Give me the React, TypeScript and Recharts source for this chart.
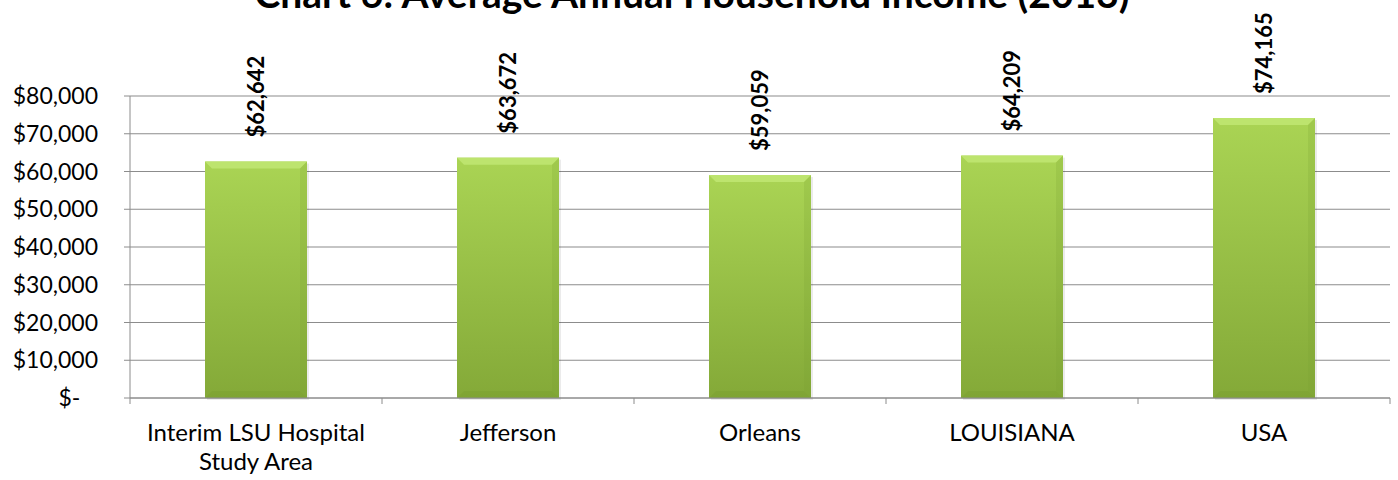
import { Bar, BarChart, CartesianGrid, LabelList, XAxis, YAxis } from 'recharts';

const TITLE = 'Chart 6: Average Annual Household Income (2013)';
const CATEGORIES = ['Interim LSU Hospital Study Area', 'Jefferson', 'Orleans', 'LOUISIANA', 'USA'];
const INCOME = [62642, 63672, 59059, 64209, 74165];
const Y_TICKS = [0, 10000, 20000, 30000, 40000, 50000, 60000, 70000, 80000];

const AXIS = '#8c8c8c';
const FONT = 'Lato, "Open Sans", sans-serif';

const data = CATEGORIES.map((name, i) => ({ name, income: INCOME[i] }));

const money = (v: number) => (v === 0 ? '$-\u00A0\u00A0\u00A0' : '$' + v.toLocaleString('en-US'));

// greedy word wrap for the long category name
function wrap(text: string, max: number) {
  const lines: string[] = [];
  let cur = '';
  for (const w of text.split(' ')) {
    const next = cur ? cur + ' ' + w : w;
    if (next.length > max && cur) {
      lines.push(cur);
      cur = w;
    } else cur = next;
  }
  if (cur) lines.push(cur);
  return lines;
}

function CategoryTick(props: any) {
  const { x, y, payload, index, visibleTicksCount } = props;
  const half = payload.offset ?? 1260 / CATEGORIES.length / 2;
  const lines = wrap(String(payload.value), 20);
  return (
    <g>
      <line x1={x - half} y1={y} x2={x - half} y2={y + 6} stroke={AXIS} />
      {index === visibleTicksCount - 1 && <line x1={x + half} y1={y} x2={x + half} y2={y + 6} stroke={AXIS} />}
      <text x={x} y={y + 43} textAnchor="middle" fontSize={24} fill="#000" fontFamily={FONT}>
        {lines.map((l, i) => (
          <tspan key={i} x={x} dy={i === 0 ? 0 : 29}>
            {l}
          </tspan>
        ))}
      </text>
    </g>
  );
}

function BevelBar(props: any) {
  const { x, y, width, height } = props;
  if (!height) return null;
  const b = 7;
  return (
    <g>
      <rect x={x + 2} y={y + 2} width={width} height={height} fill="rgba(0,0,0,0.08)" />
      <rect x={x} y={y} width={width} height={height} fill="url(#barGrad)" />
      <polygon points={`${x},${y} ${x + width},${y} ${x + width - b},${y + b} ${x + b},${y + b}`} fill="#bde46e" />
      <polygon points={`${x + width},${y} ${x + width - b},${y + b} ${x + width - b},${y + height - b} ${x + width},${y + height}`} fill="#7a9e30" opacity={0.2} />
      <polygon points={`${x},${y + height} ${x + b},${y + height - b} ${x + width - b},${y + height - b} ${x + width},${y + height}`} fill="#6f9228" opacity={0.2} />
    </g>
  );
}

function ValueLabel(props: any) {
  const { x, y, width, value } = props;
  const tx = x + width / 2 + 8;
  const ty = y - 24;
  return (
    <text x={tx} y={ty} transform={`rotate(-90, ${tx}, ${ty})`} textAnchor="start" fontSize={22} fontWeight={700} fill="#000" fontFamily={FONT}>
      {money(value)}
    </text>
  );
}

export default function App() {
  return (
    <div style={{ position: 'absolute', left: 0, top: 0, width: 1398, height: 480, background: '#fff', fontFamily: FONT }}>
      <BarChart width={1398} height={480} data={data} margin={{ top: 96, right: 8, bottom: 0, left: 0 }}>
        <defs>
          <linearGradient id="barGrad" x1="0" y1="0" x2="0" y2="1">
            <stop offset="0%" stopColor="#aad454" />
            <stop offset="100%" stopColor="#84a938" />
          </linearGradient>
        </defs>
        <CartesianGrid vertical={false} stroke={AXIS} strokeWidth={1.2} />
        <XAxis
          dataKey="name"
          height={82}
          interval={0}
          stroke={AXIS}
          tickLine={false}
          tickSize={0}
          tickMargin={0}
          tick={<CategoryTick />}
        />
        <YAxis
          width={130}
          domain={[0, 80000]}
          ticks={Y_TICKS}
          tickFormatter={money}
          stroke={AXIS}
          tickSize={6}
          tickMargin={26}
          tick={{ fontSize: 23, fill: '#000', fontFamily: FONT }}
        />
        <Bar dataKey="income" barSize={102} shape={<BevelBar />} isAnimationActive={false}>
          <LabelList dataKey="income" content={<ValueLabel />} />
        </Bar>
      </BarChart>
      <svg width={1398} height={40} style={{ position: 'absolute', left: 0, top: 0 }}>
        <text x={692} y={8} textAnchor="middle" fontSize={39} fontWeight={700} fill="#000" fontFamily={FONT}>
          {TITLE}
        </text>
      </svg>
    </div>
  );
}
